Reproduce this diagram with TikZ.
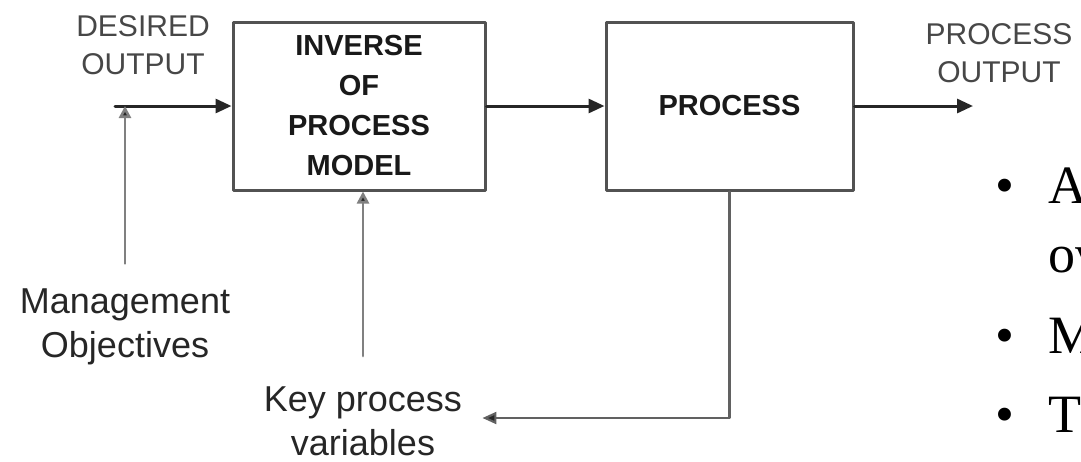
\documentclass[tikz,border=0pt]{standalone}
\usepackage{fontspec}
\setmainfont{Liberation Sans}
\newfontfamily\slidefont{Liberation Serif}
\usetikzlibrary{arrows.meta}
\usetikzlibrary{positioning}

\begin{document}
\begin{tikzpicture}[x=0.5pt,y=-0.5pt,
	line cap=round,line join=round,
	block/.style={draw=black!68,line width=1.5pt,minimum width=126pt,minimum height=84pt,
		inner sep=0pt,align=center,text=black!90,font=\fontsize{14.5}{20}\selectfont\bfseries},
	sig/.style={draw=black!85,line width=1.5pt,-{Triangle[length=8pt,width=7pt]}},
	aux/.style={draw=black!50,line width=1.3pt,-{Triangle[length=6pt,width=6pt,fill=black!85]}},
	fb/.style={draw=black!62,line width=1.1pt,-{Triangle[length=7pt,width=6pt,fill=black!85]}},
	tag/.style={inner sep=0pt,align=center,text=black!72,font=\fontsize{15}{19}\selectfont},
	note/.style={inner sep=0pt,align=center,text=black!85,font=\fontsize{18}{22}\selectfont},
	pt/.style={inner sep=0pt,anchor=base,font=\slidefont\fontsize{27}{32}\selectfont}]
	
	\useasboundingbox (0,0) rectangle (1081,461);
	
	% blocks
	\node [block] (inv) at (359,106) {INVERSE\\OF\\PROCESS\\MODEL};
	\node [block,minimum width=123.5pt] (proc) at (729.5,106) {PROCESS};
	
	% labels
	\node [tag] (des) at (143,45) {DESIRED\\OUTPUT};
	\node [tag] (pout) at (999,53) {PROCESS\\OUTPUT};
	\node [note] (mgmt) at (125,327) {Management\\Objectives};
	\node [note] (key) at (363,421) {Key process\\variables};
	
	\coordinate (in) at (115,106);
	\coordinate (out) at (973,106);
	
	\draw [sig] (in) -- (inv.west);
	\draw [sig] (inv.east) -- (proc.west);
	\draw [sig] (proc.east) -- (out);
	
	% inputs from below
	\draw [aux] ([yshift=12.5pt]mgmt.north) -- (mgmt.north |- in);
	\draw [aux] ([yshift=15pt]key.north) -- (key.north |- inv.south);
	
	% feedback
	\draw [fb] (proc.south) |- ([xshift=10pt,yshift=1.5pt]key.east);
	
	% slide text, cut off at the edge
	\node [pt] (b1) at (1005,203) {•};
	\node [pt,anchor=base west] (w1) at (1048,203) {A};
	\node [pt,anchor=base west] (w2) at (1048,272) {ov};
	\node [pt] (b3) at (1005,353) {•};
	\node [pt,anchor=base west] (w3) at (1048,353) {M};
	\node [pt] (b4) at (1005,432) {•};
	\node [pt,anchor=base west] (w4) at (1048,432) {T};
\end{tikzpicture}
\end{document}
